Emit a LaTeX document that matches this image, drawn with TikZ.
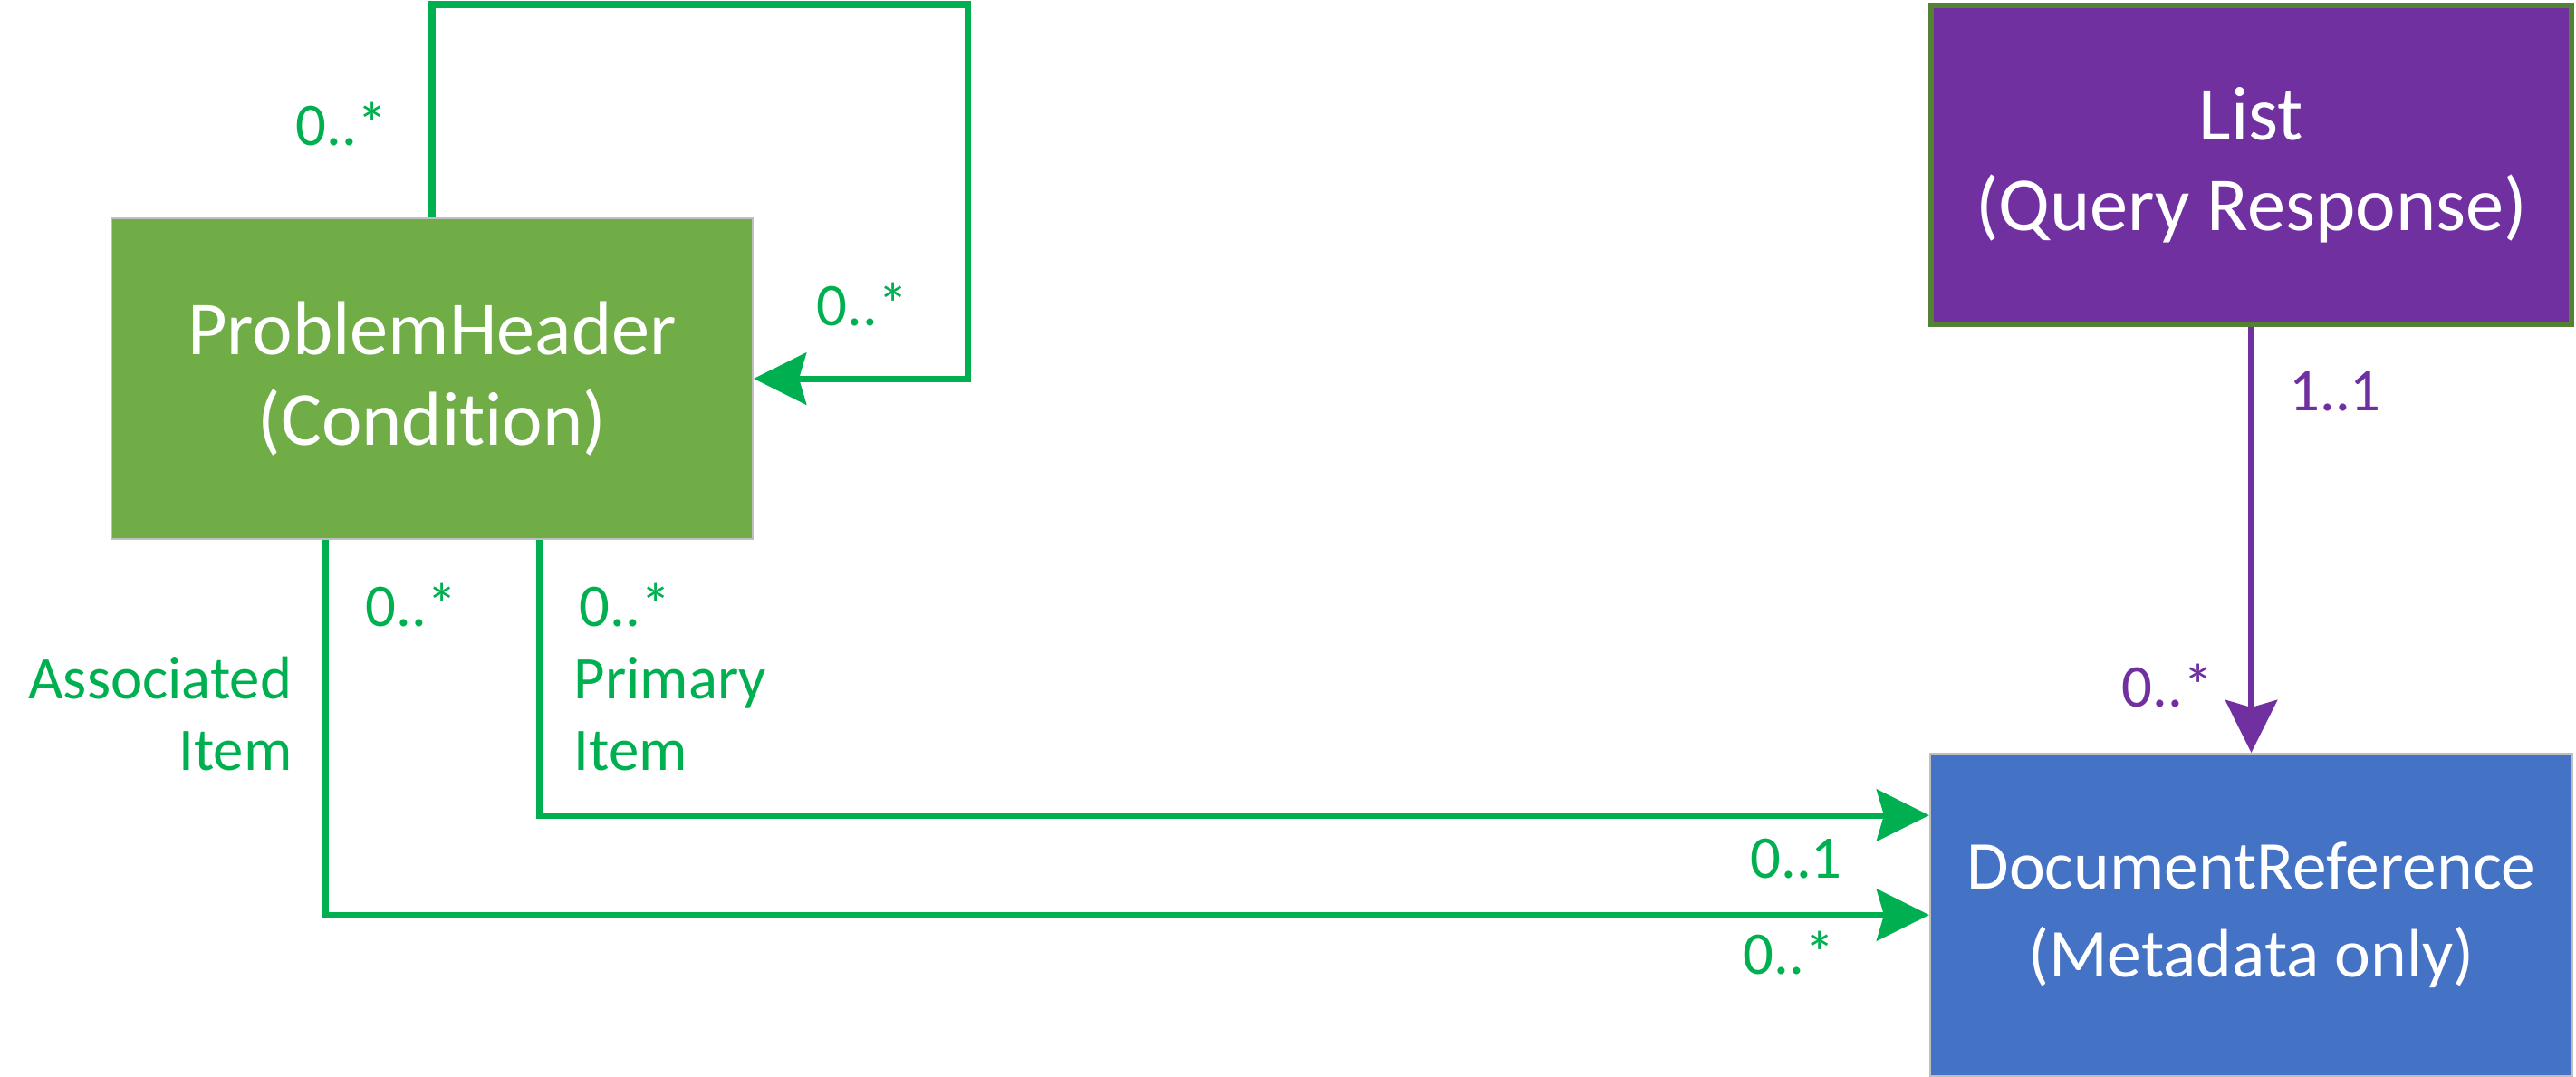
\documentclass[tikz,border=0pt]{standalone}
\usepackage{fontspec}
\setmainfont{Carlito}[Ligatures=NoCommon]
\usepackage{tikz}
\usetikzlibrary{arrows.meta, positioning}
\definecolor{linegreen}{HTML}{00B050}
\definecolor{boxgreen}{HTML}{70AD47}
\definecolor{boxpurple}{HTML}{7030A0}
\definecolor{boxblue}{HTML}{4472C4}
\definecolor{edgegreen}{HTML}{548235}
\definecolor{edgegrey}{HTML}{BFBFBF}
\tikzstyle{arrow} = [line width=2pt, linegreen, -{Stealth[length=5.8mm, width=5.7mm, inset=0.8mm]}]
\tikzstyle{listarrow} = [arrow, boxpurple]
\tikzstyle{entity} = [rectangle, draw=edgegrey, line width=0.6pt, text=white, align=center, minimum width=7.08cm, minimum height=3.54cm, font=\fontsize{24}{28.5}\selectfont]
\tikzstyle{card} = [inner sep=0pt, text=linegreen, font=\fontsize{19}{22.5}\selectfont]

\begin{document}
\begin{tikzpicture}
\useasboundingbox (0,0) rectangle (28.44,-11.88);
\node [entity, fill=boxgreen] (ph) at (4.77,-4.18) {ProblemHeader\\(Condition)};
\node [entity, fill=boxpurple, draw=edgegreen, line width=1.7pt, minimum width=7.07cm, minimum height=3.52cm] (lst) at (24.855,-1.82) {List\\(Query Response)};
\node [entity, fill=boxblue, minimum width=7.09cm, minimum height=3.56cm, font=\fontsize{21.5}{27.6}\selectfont] (docref) [below=4.7cm of lst] {DocumentReference\\(Metadata only)};
\coordinate (loop) at (10.68,-0.05);
\node [card] (c1) at (3.77,-1.37) {0..*};
\node [card] (c2) at (9.52,-3.36) {0..*};
\node [card] (c3) at (4.54,-6.68) {0..*};
\node [card] (c4) at (6.90,-6.68) {0..*};
\node [card, align=right, anchor=east] (assoc) at (3.23,-7.88) {Associated\\Item};
\node [card, align=left, anchor=west] (prim) at (6.33,-7.88) {Primary\\Item};
\node [card, text=boxpurple] (c5) at (25.78,-4.32) {1..1};
\node [card, text=boxpurple] (c6) at (23.93,-7.57) {0..*};
\node [card] (c7) at (19.83,-9.48) {0..1};
\node [card] (c8) at (19.75,-10.52) {0..*};
\draw [arrow] (ph.north) |- (loop) |- (ph.east);
\draw [arrow] ([xshift=1.19cm]ph.south) |- ([yshift=1.1cm]docref.west);
\draw [arrow] ([xshift=-1.18cm]ph.south) |- (docref.west);
\draw [listarrow] (lst.south) to (docref.north);
\end{tikzpicture}
\end{document}
